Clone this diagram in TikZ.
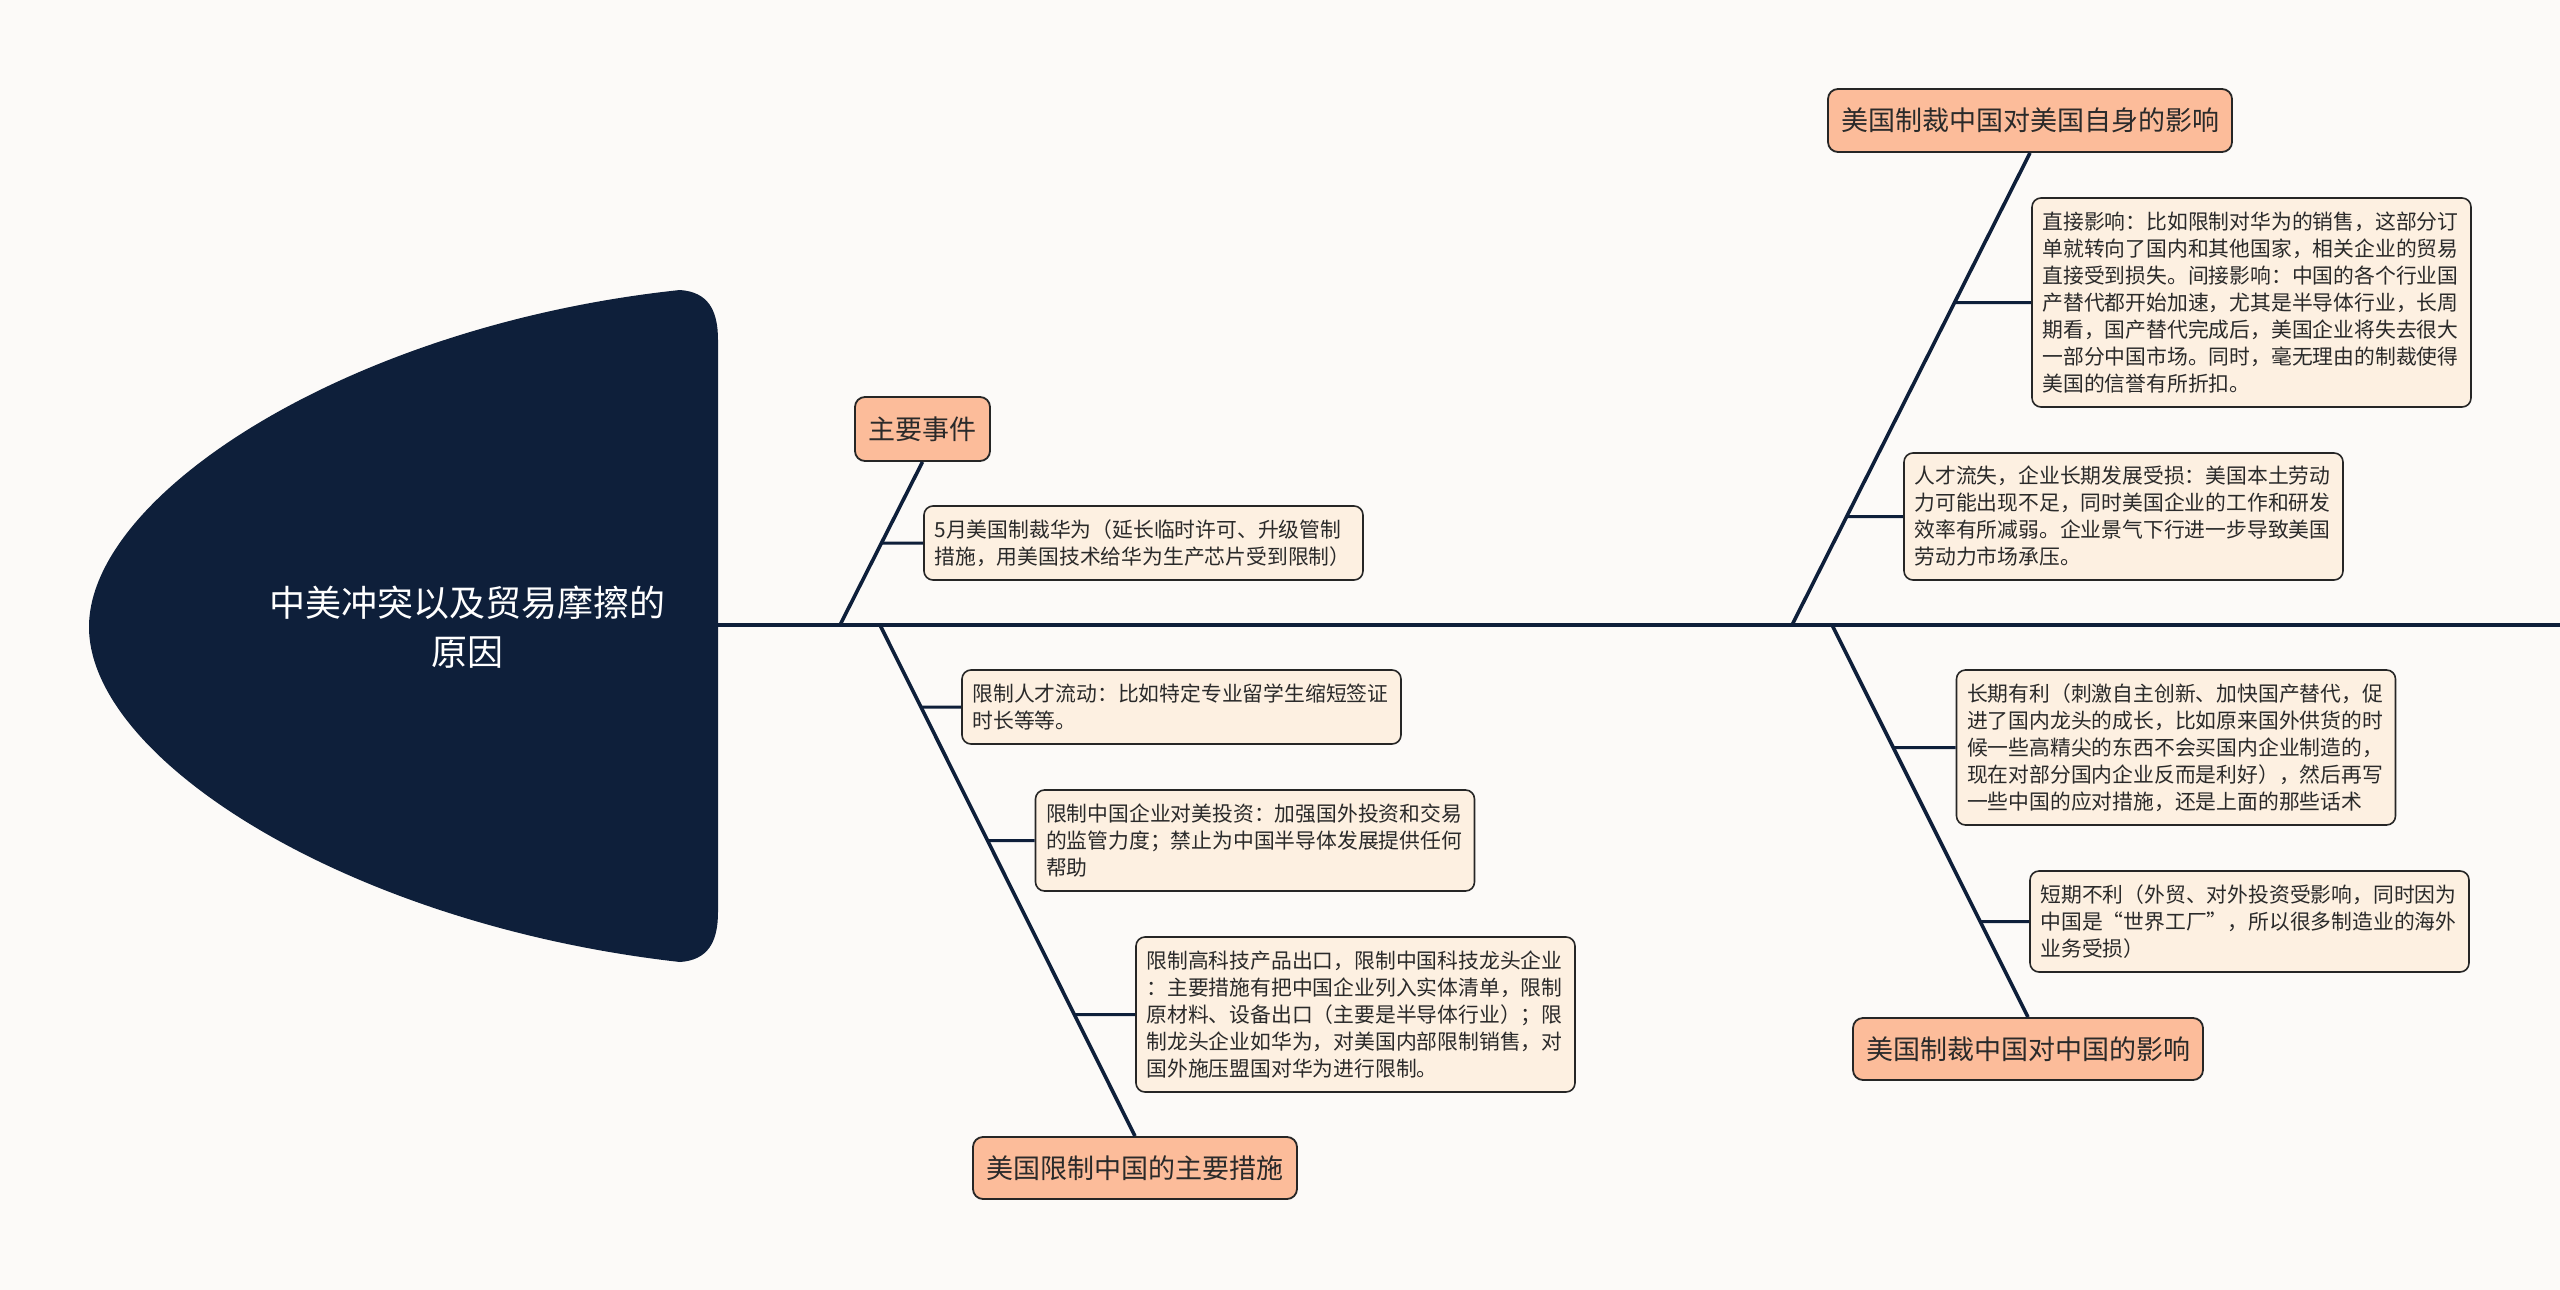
\documentclass[tikz,border=0pt]{standalone}
\usepackage{fontspec}
\setmainfont{Noto Sans CJK SC}
\definecolor{bgc}{HTML}{FCFAF8}
\definecolor{navy}{HTML}{0E1F3A}
\definecolor{topicfill}{HTML}{FCBC9A}
\definecolor{leaffill}{HTML}{FDF0E1}
\definecolor{txt}{HTML}{2A2A2A}
\tikzset{
  topicbox/.style={draw=txt!90!black, line width=1.8pt, fill=topicfill, rounded corners=10pt,
    inner sep=0pt, text=txt, font=\fontsize{27}{34}\selectfont, align=center},
  leafbox/.style={draw=txt!90!black, line width=1.6pt, fill=leaffill, rounded corners=9pt,
    inner xsep=10.5pt, inner ysep=0pt, text width=418pt, minimum width=439pt, align=left,
    text=txt, font=\fontsize{20.8}{27}\selectfont},
  spineline/.style={draw=navy, line width=4.5pt},
  branchline/.style={draw=navy, line width=3.6pt},
  subline/.style={draw=navy, line width=3pt}
}
\begin{document}
\begin{tikzpicture}[x=1pt,y=-1pt]
\fill[bgc] (0,0) rectangle (2560,1290);
\useasboundingbox (0,0) rectangle (2560,1290);

% head
\fill[navy] (680,290) .. controls (708,292) and (718,310) .. (718,340)
  -- (718,912) .. controls (718,942) and (708,960) .. (680,962)
  .. controls (350,925) and (89,760) .. (89,627)
  .. controls (89,494) and (350,325) .. (680,290) -- cycle;
\node[text=white, font=\fontsize{36}{49}\selectfont, align=center] (title) at (467,627.5)
  {中美冲突以及贸易摩擦的\\原因};

% spine
\coordinate (headE) at (718,625);
\coordinate (tailE) at (2560,625);
\coordinate (s1) at (840,625);
\coordinate (s2) at (880,625);
\coordinate (s3) at (1792,625);
\coordinate (s4) at (1832,625);
\draw[spineline] (headE) -- (tailE);

% topics
\node[topicbox, minimum width=135pt, minimum height=64pt] (T1) at (922.5,429) {主要事件};
\node[topicbox, minimum width=324pt, minimum height=62pt] (T2) at (1135,1168) {美国限制中国的主要措施};
\node[topicbox, minimum width=404pt, minimum height=63pt] (T3) at (2030,120.5) {美国制裁中国对美国自身的影响};
\node[topicbox, minimum width=350pt, minimum height=62pt] (T4) at (2028,1049) {美国制裁中国对中国的影响};

% leaves
\node[leafbox, minimum height=74pt] (L1) at (1143.5,543)
  {5月美国制裁华为（延长临时许可、升级管制\\措施，用美国技术给华为生产芯片受到限制）};
\node[leafbox, minimum height=74pt] (LA) at (1181.5,707)
  {限制人才流动：比如特定专业留学生缩短签证\\时长等等。};
\node[leafbox, minimum height=101pt] (LB) at (1255,840.5)
  {限制中国企业对美投资：加强国外投资和交易\\的监管力度；禁止为中国半导体发展提供任何\\帮助};
\node[leafbox, minimum height=155pt] (LC) at (1355.5,1014.5)
  {限制高科技产品出口，限制中国科技龙头企业\\：主要措施有把中国企业列入实体清单，限制\\原材料、设备出口（主要是半导体行业）；限\\制龙头企业如华为，对美国内部限制销售，对\\国外施压盟国对华为进行限制。};
\node[leafbox, minimum height=209pt] (LD) at (2251.5,302.5)
  {直接影响：比如限制对华为的销售，这部分订\\单就转向了国内和其他国家，相关企业的贸易\\直接受到损失。间接影响：中国的各个行业国\\产替代都开始加速，尤其是半导体行业，长周\\期看，国产替代完成后，美国企业将失去很大\\一部分中国市场。同时，毫无理由的制裁使得\\美国的信誉有所折扣。};
\node[leafbox, minimum height=127pt] (LE) at (2123.5,516.5)
  {人才流失，企业长期发展受损：美国本土劳动\\力可能出现不足，同时美国企业的工作和研发\\效率有所减弱。企业景气下行进一步导致美国\\劳动力市场承压。};
\node[leafbox, minimum height=155pt] (LF) at (2176,747.5)
  {长期有利（刺激自主创新、加快国产替代，促\\进了国内龙头的成长，比如原来国外供货的时\\候一些高精尖的东西不会买国内企业制造的，\\现在对部分国内企业反而是利好），然后再写\\一些中国的应对措施，还是上面的那些话术};
\node[leafbox, minimum height=101pt] (LG) at (2249.5,921.5)
  {短期不利（外贸、对外投资受影响，同时因为\\中国是“世界工厂”，所以很多制造业的海外\\业务受损）};

% branch lines
\draw[branchline] (s1) -- (T1.south);
\draw[branchline] (s2) -- (T2.north);
\draw[branchline] (s3) -- (T3.south);
\draw[branchline] (s4) -- (T4.north);

% sub connectors
\draw[subline] (intersection of s1--T1.south and L1.west--L1.east) -- (L1.west);
\draw[subline] (intersection of s2--T2.north and LA.west--LA.east) -- (LA.west);
\draw[subline] (intersection of s2--T2.north and LB.west--LB.east) -- (LB.west);
\draw[subline] (intersection of s2--T2.north and LC.west--LC.east) -- (LC.west);
\draw[subline] (intersection of s3--T3.south and LD.west--LD.east) -- (LD.west);
\draw[subline] (intersection of s3--T3.south and LE.west--LE.east) -- (LE.west);
\draw[subline] (intersection of s4--T4.north and LF.west--LF.east) -- (LF.west);
\draw[subline] (intersection of s4--T4.north and LG.west--LG.east) -- (LG.west);
\end{tikzpicture}
\end{document}
